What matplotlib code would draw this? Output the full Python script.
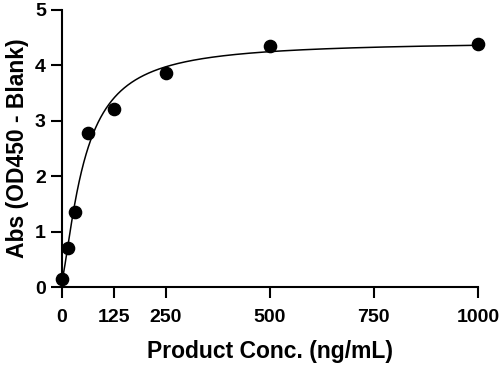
import numpy as np
import matplotlib
matplotlib.use("Agg")
import matplotlib.pyplot as plt

plt.rcParams['font.family'] = ['Liberation Sans', 'DejaVu Sans']
plt.rcParams['font.weight'] = 'bold'

conc = [0, 15.625, 31.25, 62.5, 125, 250, 500, 1000]
absorb = [0.16, 0.71, 1.36, 2.78, 3.21, 3.86, 4.35, 4.38]
xticks = [0, 125, 250, 500, 750, 1000]
yticks = [0, 1, 2, 3, 4, 5]
xlabel = "Product Conc. (ng/mL)"
ylabel = "Abs (OD450 - Blank)"


def model(p, x):
    a, d, c, b = p
    return d + (a - d) / (1.0 + (np.maximum(x, 0) / c) ** b)


def fit(x, y, p0, iters=200):
    p = np.array(p0, dtype=float)
    lam = 1e-2
    for _ in range(iters):
        r = y - model(p, x)
        J = np.zeros((len(x), len(p)))
        for j in range(len(p)):
            dp = np.zeros_like(p)
            dp[j] = 1e-6 * max(abs(p[j]), 1e-3)
            J[:, j] = (model(p + dp, x) - model(p, x)) / dp[j]
        A = J.T @ J
        g = J.T @ r
        step = np.linalg.solve(A + lam * np.diag(np.diag(A)), g)
        pn = p + step
        if np.all(np.isfinite(pn)) and pn[2] > 0 and np.sum((y - model(pn, x)) ** 2) < np.sum(r ** 2):
            p = pn
            lam *= 0.5
        else:
            lam *= 4
    return p


x = np.array(conc, dtype=float)
y = np.array(absorb, dtype=float)
params = fit(x, y, [0.1, 4.4, 50.0, 1.3])
xs = np.linspace(0, 1000, 2000)

fig = plt.figure(figsize=(5.0, 3.66), dpi=100)
ax = fig.add_axes([0.123, 0.2145, 0.833, 0.7595])
ax.plot(xs, model(params, xs), color='black', lw=1.1, zorder=2)
ax.plot(conc, absorb, 'o', color='black', ms=8.8, zorder=3, clip_on=False)

ax.set_xlim(0, 1000)
ax.set_ylim(0, 5)
ax.set_xticks(xticks)
ax.set_yticks(yticks)
ax.set_xticklabels([str(t) for t in xticks], fontsize=14, fontweight='bold')
ax.set_yticklabels([str(t) for t in yticks], fontsize=14, fontweight='bold')
ax.set_xlabel(xlabel, fontsize=16.5, fontweight='bold', labelpad=10.5)
ax.set_ylabel(ylabel, fontsize=16.5, fontweight='bold', labelpad=4.5)
for s in ['top', 'right']:
    ax.spines[s].set_visible(False)
for s in ['left', 'bottom']:
    ax.spines[s].set_linewidth(1.5)
ax.tick_params(width=1.5, length=8, direction='out')
ax.tick_params(axis='x', pad=7.3)
ax.tick_params(axis='y', pad=3.3)

fig.savefig("out.png", dpi=100)
